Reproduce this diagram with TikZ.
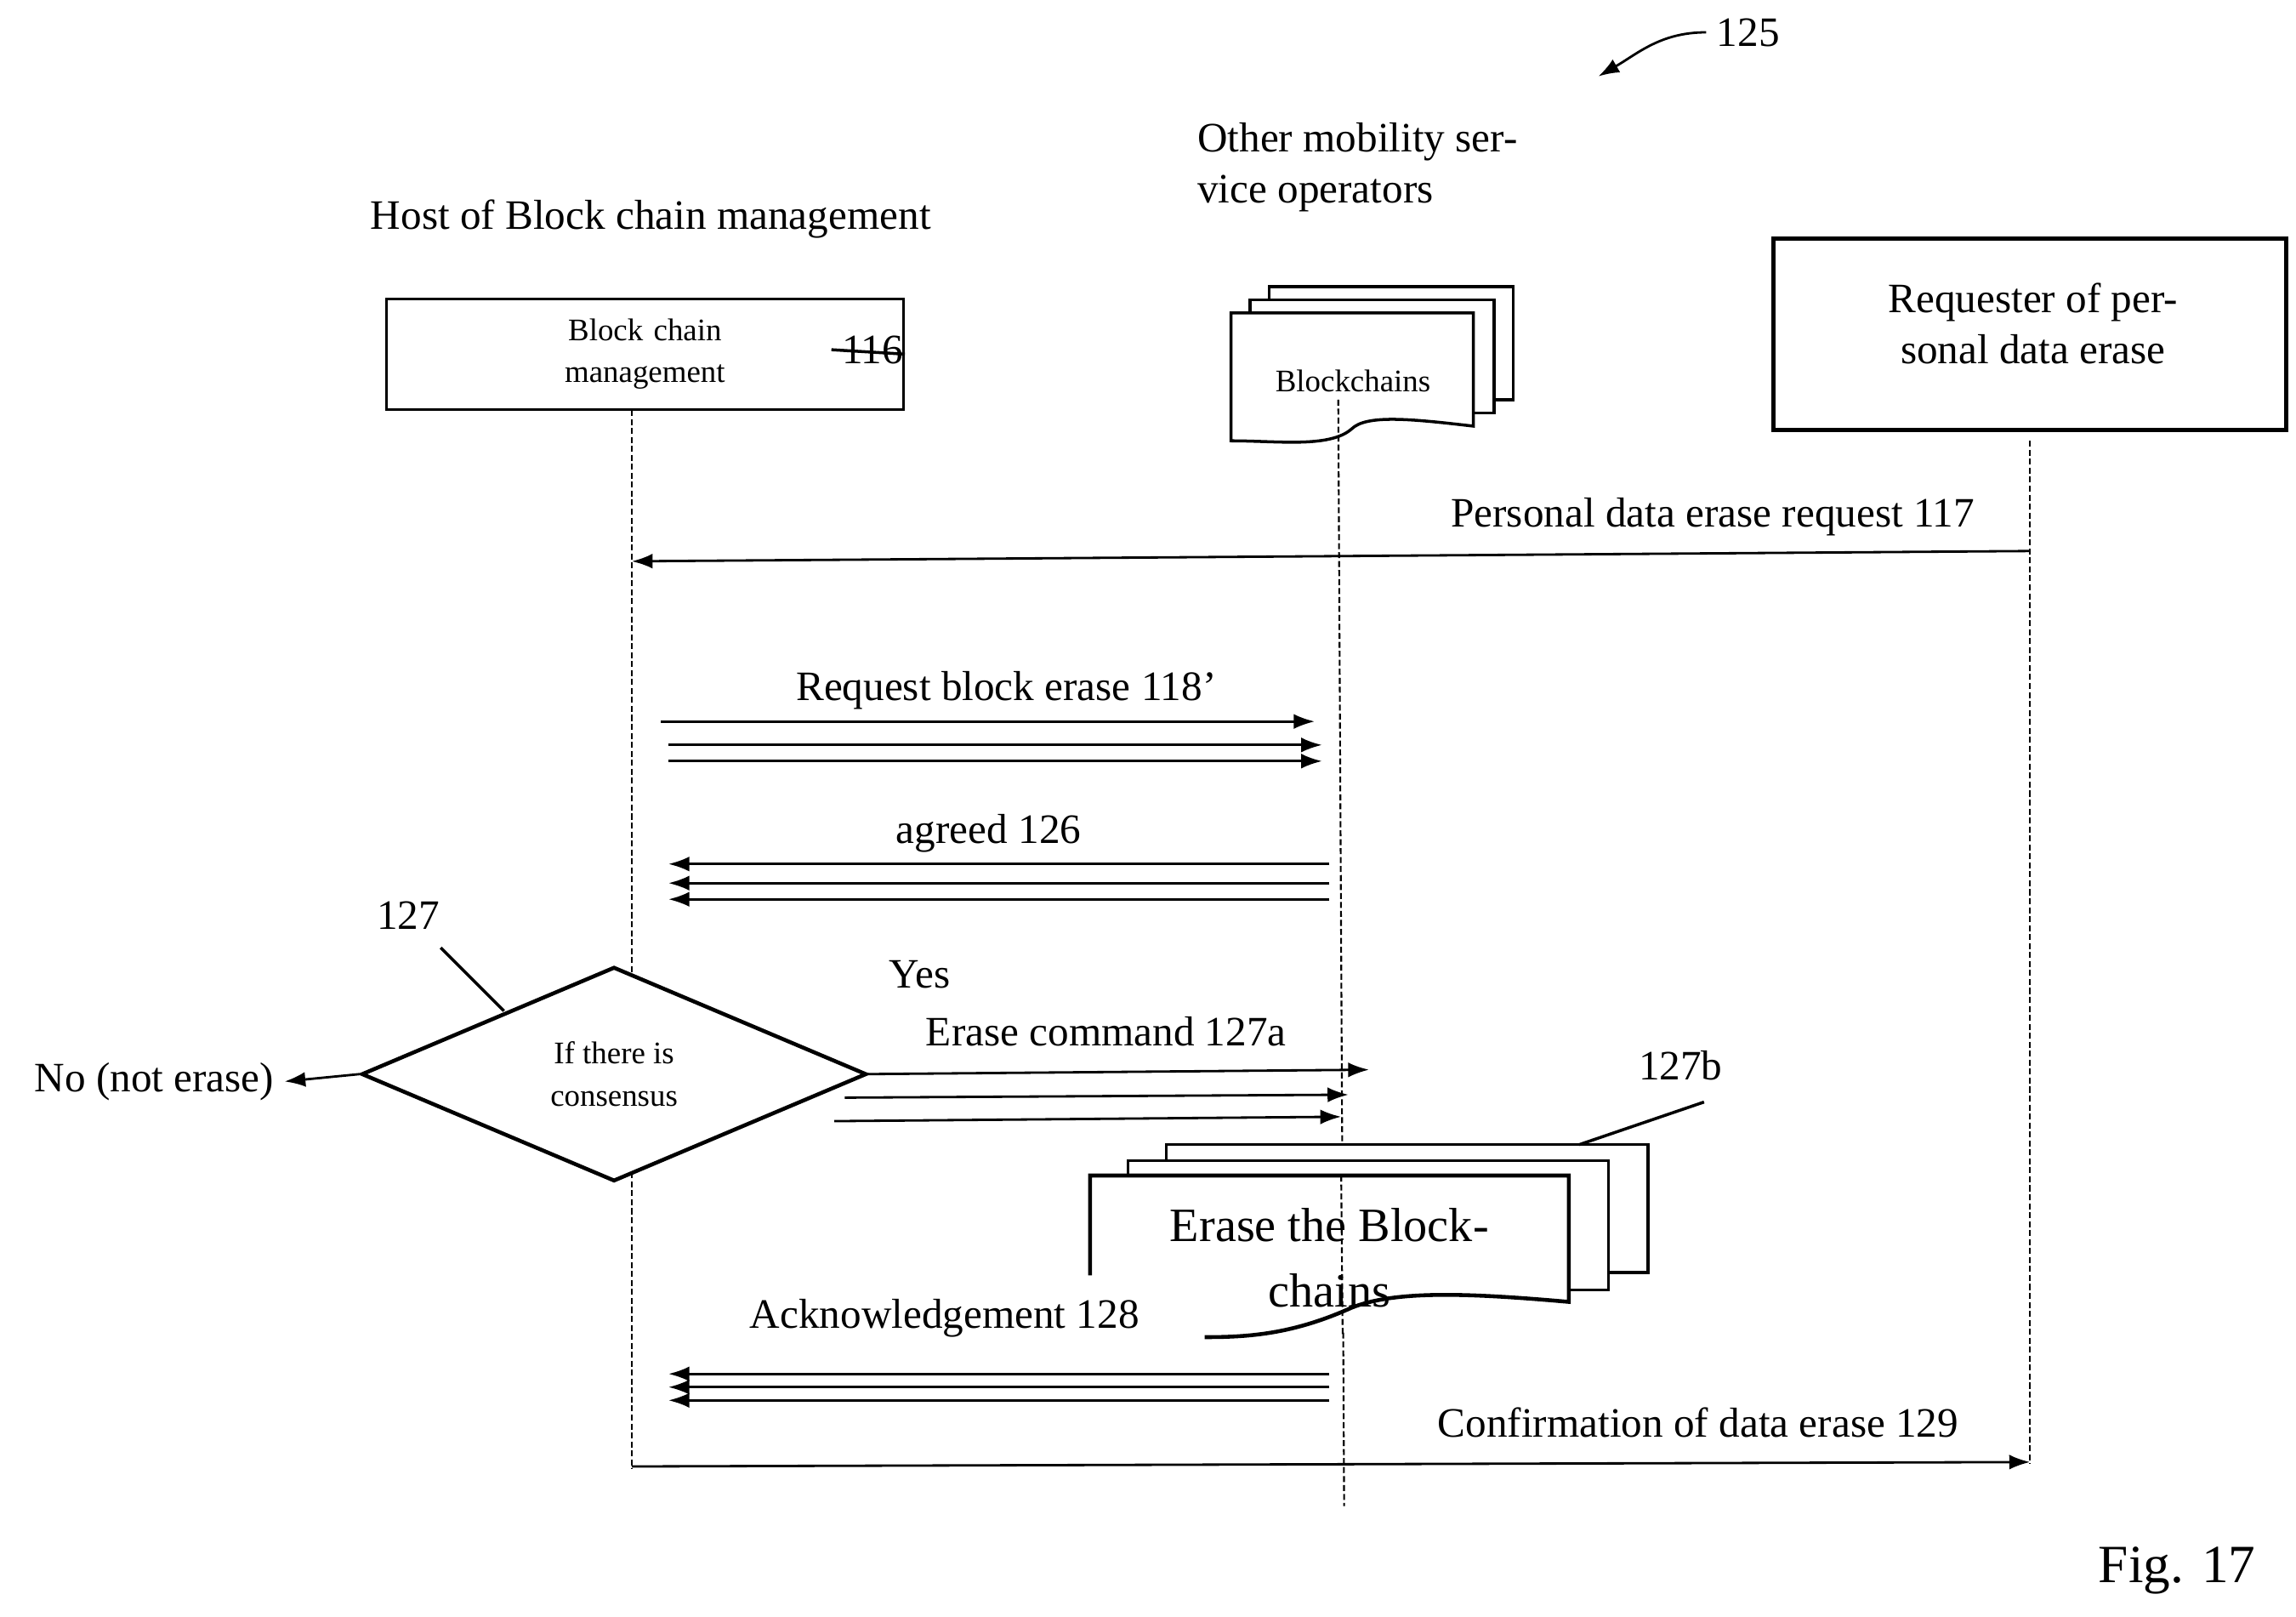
\documentclass[tikz,border=0pt]{standalone}
\usepackage{fontspec}
\setmainfont{Liberation Serif}
\usetikzlibrary{shapes.geometric,arrows.meta}
\tikzset{
  big/.style={font=\fontsize{14}{17}\selectfont, align=center},
  small/.style={font=\fontsize{10.5}{14}\selectfont, align=center},
  msg/.style={-{Latex[length=7pt,width=5pt]}, line width=0.8pt},
  life/.style={densely dashed, dash pattern=on 2pt off 1pt, line width=0.6pt},
  doc/.style={draw, fill=white, line width=1pt}
}
\begin{document}
\begin{tikzpicture}[x=0.01727cm, y=-0.01727cm]
  \useasboundingbox (0,0) rectangle (1563,1100);

  % headers
  \node[big] (ref) at (1190,22) {125};
  \coordinate (refend) at (1088,52);
  \draw[msg] (ref.west) to[out=180,in=30] (refend);
  \node[big, align=left, anchor=west] (otherlbl) at (808,114) {Other mobility ser-\\vice operators};
  \node[big] (hostlbl) at (443,149) {Host of Block chain management};

  % block chain management box
  \node[small, draw, line width=1pt, minimum width=173\pgflinewidth, text width=2.7cm,
        minimum height=1.3cm] (bcm) at (439,241) {Block chain\\management};
  \node[big] (n116) at (594,238) {116};
  \draw[line width=1pt] (bcm.east) -- (n116.west);

  % blockchains stack
  \begin{scope}[line width=1pt]
    \draw[doc] (864,195) rectangle (1030,272);
    \draw[doc] (851,204) rectangle (1017,281);
    \draw[doc] (838,213) -- (1003,213) -- (1003,290)
      .. controls (960,285) and (930,282) .. (920,292)
      .. controls (905,305) and (870,300) .. (838,300) -- cycle;
  \end{scope}
  \node[small] (bchains) at (921,259) {Blockchains};

  % requester box
  \node[big, draw, line width=1.3pt, minimum width=6.03cm, minimum height=2.25cm,
        anchor=north west, inner sep=0pt] (req) at (1206,161) {};
  \node[big] (reqlbl) at (1384,220) {Requester of per-\\sonal data erase};

  % lifelines
  \coordinate (hA) at (430,279);  \coordinate (hB) at (430,1000);
  \coordinate (oA) at (911,272);  \coordinate (oB) at (915,1025);
  \coordinate (rA) at (1382,300); \coordinate (rB) at (1382,996);
  \draw[life] (hA) -- (hB);
  \draw[life] (oA) -- (oB);
  \draw[life] (rA) -- (rB);

  % 117
  \coordinate (m117a) at (1382,375); \coordinate (m117b) at (430,382);
  \draw[msg] (m117a) -- (m117b);
  \node[big] (l117) at (1166,352) {Personal data erase request 117};

  % 118'
  \foreach \i/\xa/\xb/\yy in {1/450/895/491, 2/455/900/507, 3/455/900/518} {
    \coordinate (q\i a) at (\xa,\yy); \coordinate (q\i b) at (\xb,\yy);
    \draw[msg] (q\i a) -- (q\i b);
  }
  \node[big] (l118) at (685,470) {Request block erase 118’};

  % 126
  \foreach \i/\yy in {1/588, 2/601, 3/612} {
    \coordinate (g\i a) at (905,\yy); \coordinate (g\i b) at (455,\yy);
    \draw[msg] (g\i a) -- (g\i b);
  }
  \node[big] (l126) at (673,567) {agreed 126};

  % decision
  \node[small, draw, diamond, line width=1.3pt, aspect=2.35, minimum width=5.94cm,
        minimum height=2.52cm, inner sep=0pt, fill=white] (cons) at (418,731) {If there is\\consensus};
  \node[big] (n127) at (278,623) {127};
  \coordinate (c127) at (343,688);
  \draw[line width=1pt] (300,645) -- (c127);
  \node[big] (nolbl) at (105,736) {No (not erase)};
  \draw[msg] (cons.west) -- (nolbl.east);
  \node[big] (yes) at (626,663) {Yes};
  \node[big] (l127a) at (753,702) {Erase command 127a};
  \foreach \i/\xa/\xb/\ya/\yb in {1/590/932/731/728, 2/575/918/747/745, 3/568/913/763/760} {
    \coordinate (e\i a) at (\xa,\ya); \coordinate (e\i b) at (\xb,\yb);
    \draw[msg] (e\i a) -- (e\i b);
  }

  % erase stack
  \begin{scope}[line width=1.3pt]
    \draw[doc] (794,779) rectangle (1122,866);
    \draw[doc] (768,790) rectangle (1095,878);
    \draw[fill=white, draw=none] (742,800) rectangle (1068,905);
    \draw (742,868) -- (742,800) -- (1068,800) -- (1068,886)
      .. controls (1000,880) and (950,878) .. (920,890)
      .. controls (880,908) and (850,910) .. (820,910);
  \end{scope}
  \draw[life] (913,800) -- (914,910);
  \node[big, font=\fontsize{16}{22}\selectfont] (erlbl) at (905,856) {Erase the Block-\\chains};
  \node[big] (n127b) at (1144,725) {127b};
  \coordinate (c127b) at (1075,779);
  \draw[line width=1pt] (1160,750) -- (c127b);

  % 128
  \node[big] (l128) at (643,897) {Acknowledgement 128};
  \foreach \i/\yy in {1/935, 2/944, 3/953} {
    \coordinate (k\i a) at (905,\yy); \coordinate (k\i b) at (455,\yy);
    \draw[msg] (k\i a) -- (k\i b);
  }

  % 129
  \coordinate (m129a) at (430,998); \coordinate (m129b) at (1382,995);
  \draw[msg] (m129a) -- (m129b);
  \node[big] (l129) at (1156,968) {Confirmation of data erase 129};

  \node[big, font=\fontsize{18}{22}\selectfont] (fig) at (1482,1069) {Fig. 17};
\end{tikzpicture}
\end{document}
